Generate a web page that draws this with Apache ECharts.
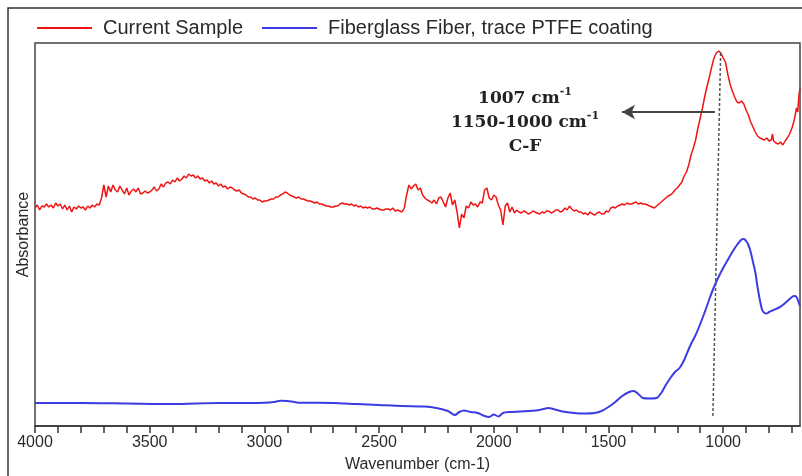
<!DOCTYPE html>
<html>
<head>
<meta charset="utf-8">
<script src="https://cdn.jsdelivr.net/npm/echarts@6/dist/echarts.min.js"></script>
<style>
html,body{margin:0;padding:0;background:#fff;}
#chart{width:802px;height:476px;}
</style>
</head>
<body>
<div id="chart"></div>
<script>
// ---- Data (wavenumber in cm-1, absorbance in arbitrary units) ----
const redWavenumber = [4000,3990,3980,3970,3960,3950,3940,3930,3920,3910,3900,3890,3880,3870,3860,3850,3840,3830,3820,3810,3800,3790,3780,3770,3760,3750,3740,3730,3720,3710,3700,3690,3680,3670,3660,3650,3640,3630,3620,3610,3600,3590,3580,3570,3560,3550,3540,3530,3520,3510,3500,3490,3480,3470,3460,3450,3440,3430,3420,3410,3400,3390,3380,3370,3360,3350,3340,3330,3320,3310,3300,3290,3280,3270,3260,3250,3240,3230,3220,3210,3200,3190,3180,3170,3160,3150,3140,3130,3120,3110,3100,3090,3080,3070,3060,3050,3040,3030,3020,3010,3000,2990,2980,2970,2960,2950,2940,2930,2920,2910,2900,2890,2880,2870,2860,2850,2840,2830,2820,2810,2800,2790,2780,2770,2760,2750,2740,2730,2720,2710,2700,2690,2680,2670,2660,2650,2640,2630,2620,2610,2600,2590,2580,2570,2560,2550,2540,2530,2520,2510,2500,2490,2480,2470,2460,2450,2440,2430,2420,2410,2400,2390,2380,2370,2360,2350,2340,2330,2320,2310,2300,2290,2280,2270,2260,2250,2240,2230,2220,2210,2200,2190,2180,2170,2160,2150,2140,2130,2120,2110,2100,2090,2080,2070,2060,2050,2040,2030,2020,2010,2000,1990,1980,1970,1960,1950,1940,1930,1920,1910,1900,1890,1880,1870,1860,1850,1840,1830,1820,1810,1800,1790,1780,1770,1760,1750,1740,1730,1720,1710,1700,1690,1680,1670,1660,1650,1640,1630,1620,1610,1600,1590,1580,1570,1560,1550,1540,1530,1520,1510,1500,1490,1480,1470,1460,1450,1440,1430,1420,1410,1400,1390,1380,1370,1360,1350,1340,1330,1320,1310,1300,1290,1280,1270,1260,1250,1240,1230,1220,1210,1200,1190,1180,1170,1160,1150,1140,1130,1120,1110,1100,1090,1080,1070,1060,1050,1040,1030,1020,1010,1000,990,980,970,960,950,940,930,920,910,900,890,880,870,860,850,840,830,820,810,800,790,785,780,770,760,750,740,730,720,710,700,690,680,675,670,665];
const redAbsorbance = [218,221,216,220,219,222,219,221,218,223,220,222,217,221,216,220,214,219,217,220,218,219,216,220,218,221,219,222,221,228,241,229,240,234,241,236,234,240,236,232,238,231,235,237,234,238,232,233,235,233,234,236,239,235,237,242,239,243,244,242,246,244,248,245,247,250,248,252,250,251,248,250,247,248,245,246,243,245,242,243,240,242,239,240,237,239,238,236,235,236,233,232,231,229,229,227,228,226,226,224,225,225,226,227,227,229,229,231,232,234,233,231,230,229,228,229,227,227,226,225,225,224,223,224,222,222,221,220,220,219,219,220,220,222,223,222,222,221,222,220,221,219,220,218,219,218,219,217,217,218,217,216,216,217,217,216,218,215,216,215,214,218,231,241,237,240,242,236,238,231,228,226,225,223,226,222,228,229,224,219,228,233,221,226,214,198,212,208,220,218,224,221,222,219,224,223,236,238,228,226,231,229,221,216,201,220,223,214,219,213,216,214,213,215,214,212,213,215,214,213,212,214,213,215,215,213,214,216,216,214,215,218,216,220,217,215,216,214,214,212,213,211,214,212,211,213,214,212,212,215,214,218,219,218,220,221,222,221,223,222,222,223,224,222,223,222,222,221,220,219,218,220,222,224,226,228,230,231,233,236,238,241,244,250,254,261,271,278,286,298,308,318,330,340,349,359,368,373,375,373,368,364,352,342,335,329,324,323,325,322,316,311,304,299,294,290,288,287,286,288,285,286,292,285,283,282,284,281,285,288,292,298,306,318,314,330,338];

const blueWavenumber = [4000,3800,3600,3400,3200,3050,3000,2960,2930,2900,2870,2840,2700,2600,2500,2400,2300,2250,2200,2170,2150,2130,2100,2070,2040,2020,2000,1980,1960,1930,1850,1800,1760,1740,1700,1650,1600,1560,1530,1500,1470,1440,1410,1390,1370,1350,1320,1290,1270,1250,1230,1210,1190,1170,1150,1140,1120,1100,1080,1060,1040,1020,1000,980,960,940,920,910,900,890,880,870,860,850,840,830,820,810,800,780,760,740,720,700,690,680,670,665];
const blueAbsorbance = [23,23,22.5,22,23,23,23.3,24,25.3,25,24,23.3,23,22,21,20,19.5,18,15,11,14,15.5,14,13,10,9,11.5,9.5,13,14,15,16,18,17,14.5,13,12.5,13,15,19,24,30,34,35,32,28,27.5,28,33,41,48,54,58,66,77,82,91,102,114,127,139,149,158,166,174,181,186.5,187,185,181,174,164,154,139,126,116,113,112.5,114,116,118,121,125,129,130,129,123,120];

const seriesNames = ['Current Sample', 'Fiberglass Fiber, trace PTFE coating'];
const majorTicks = [1000,1500,2000,2500,3000,3500,4000];
const minorTicks = [700,800,900,1000,1100,1200,1300,1400,1500,1600,1700,1800,1900,2000,2100,2200,2300,2400,2500,2600,2700,2800,2900,3000,3100,3200,3300,3400,3500,3600,3700,3800,3900,4000];

// annotation (data coordinates)
const peakGuide = [[1011, 373], [1045, 8]];
const peakArrow = [[1036, 314], [1441, 314]];
const annotationLines = ['1007 cm', '1150-1000 cm', 'C-F'];

const zip = (xs, ys) => xs.map((x, i) => [x, ys[i]]);

const chart = echarts.init(document.getElementById('chart'), null, {renderer: 'canvas'});
const sans = "'Liberation Sans', Arial, sans-serif";
const serif = "'DejaVu Serif', serif";

chart.setOption({
  animation: false,
  backgroundColor: '#ffffff',
  legend: {
    left: 32, top: 13,
    icon: 'rect', itemWidth: 55, itemHeight: 2, itemGap: 19,
    textStyle: {fontFamily: sans, fontSize: 20, color: '#2a2a2a', padding: [0, 0, 0, 6]},
    data: seriesNames
  },
  grid: {
    left: 35, right: 2, top: 43, bottom: 50,
    containLabel: false, outerBoundsMode: 'none',
    show: true, borderColor: '#444', borderWidth: 1.5, backgroundColor: 'transparent'
  },
  xAxis: {
    type: 'value', inverse: true, min: 665, max: 4000,
    name: 'Wavenumber (cm-1)', nameLocation: 'middle', nameGap: 31,
    nameTextStyle: {fontFamily: sans, fontSize: 16, color: '#2a2a2a'},
    axisLine: {show: true, lineStyle: {color: '#333', width: 1.5}},
    axisTick: {show: true, inside: false, length: 7, customValues: minorTicks, lineStyle: {color: '#333', width: 1.5}},
    axisLabel: {customValues: majorTicks, formatter: (v) => String(v), fontFamily: sans, fontSize: 16, color: '#2a2a2a', margin: 9},
    splitLine: {show: false}
  },
  yAxis: {
    type: 'value', min: 0, max: 383,
    name: 'Absorbance', nameLocation: 'middle', nameGap: 3,
    nameTextStyle: {fontFamily: sans, fontSize: 16, color: '#2a2a2a'},
    axisLine: {show: false}, axisTick: {show: false}, axisLabel: {show: false},
    splitLine: {show: false}
  },
  series: [
    {
      name: seriesNames[0], type: 'line', showSymbol: false, symbol: 'none',
      data: zip(redWavenumber, redAbsorbance),
      lineStyle: {color: '#f01414', width: 1.5}, itemStyle: {color: '#f01414'},
      markLine: {
        silent: true, animation: false,
        label: {show: false},
        data: [
          [{coord: peakGuide[0], symbol: 'none', lineStyle: {type: [3, 2], color: '#555', width: 1.5}},
           {coord: peakGuide[1], symbol: 'none'}],
          [{coord: peakArrow[0], symbol: 'none', lineStyle: {type: 'solid', color: '#444', width: 2}},
           {coord: peakArrow[1], symbol: 'arrow', symbolSize: [11, 13]}]
        ]
      }
    },
    {
      name: seriesNames[1], type: 'line', showSymbol: false, symbol: 'none', smooth: 0.3,
      data: zip(blueWavenumber, blueAbsorbance),
      lineStyle: {color: '#3c3ce0', width: 2}, itemStyle: {color: '#3c3ce0'}
    }
  ],
  graphic: [
    {type: 'rect', silent: true, z: 100, shape: {x: 8, y: 8, width: 1000, height: 1000},
     style: {fill: 'none', stroke: '#333', lineWidth: 1.5}},
    {type: 'text', silent: true, z: 100, x: 525, y: 87,
     style: {
       text: '{b|' + annotationLines[0] + '}{s|-1}\n{b|' + annotationLines[1] + '}{s|-1}\n{b|' + annotationLines[2] + '}',
       align: 'center', verticalAlign: 'top',
       rich: {
         b: {fontFamily: serif, fontWeight: 'bold', fontSize: 17, lineHeight: 24, fill: '#222'},
         s: {fontFamily: serif, fontWeight: 'bold', fontSize: 11, lineHeight: 14, verticalAlign: 'top', fill: '#222'}
       }
     }}
  ]
});
</script>
</body>
</html>
